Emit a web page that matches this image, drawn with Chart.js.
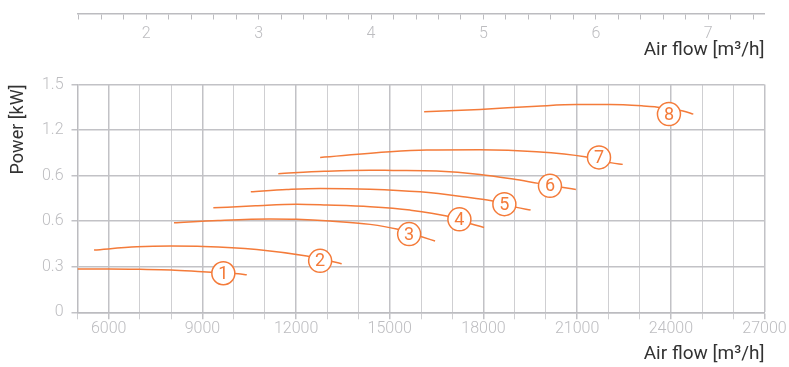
<!DOCTYPE html>
<html>
<head>
<meta charset="utf-8">
<script src="https://cdn.jsdelivr.net/npm/chart.js@4/dist/chart.umd.min.js"></script>
<style>
  html, body { margin: 0; padding: 0; background: #ffffff; }
  #wrap { position: relative; width: 789px; height: 367px; }
  #main { position: absolute; left: 0; top: 0; }
  #top { position: absolute; left: 0; top: 0; pointer-events: none; }
</style>
</head>
<body>
<div id="wrap">
  <canvas id="main" width="789" height="367"></canvas>
  <canvas id="top" width="789" height="70"></canvas>
</div>
<script>
// ---------- data ----------
const flow1 = [5000, 6000, 7000, 8000, 9000, 9700, 10150, 10420];
const power1 = [0.285, 0.285, 0.283, 0.279, 0.267, 0.259, 0.254, 0.247];

const flow2 = [5530, 6900, 8000, 9030, 10740, 12340, 13190, 13460];
const power2 = [0.410, 0.431, 0.436, 0.434, 0.414, 0.370, 0.333, 0.320];

const flow3 = [8090, 9500, 11160, 12020, 13090, 14370, 15220, 16020, 16450];
const power3 = [0.589, 0.604, 0.614, 0.612, 0.601, 0.579, 0.548, 0.497, 0.469];

const flow4 = [9350, 10700, 12020, 12980, 14370, 15650, 16820, 17620, 18020];
const power4 = [0.688, 0.701, 0.711, 0.706, 0.695, 0.673, 0.634, 0.581, 0.559];

const flow5 = [10550, 11700, 12770, 14370, 15970, 17350, 18260, 19060, 19510];
const power5 = [0.793, 0.808, 0.816, 0.811, 0.793, 0.761, 0.734, 0.691, 0.673];

const flow6 = [11430, 12900, 14370, 15110, 16500, 17890, 18950, 19760, 20560, 20960];
const power6 = [0.913, 0.928, 0.936, 0.934, 0.930, 0.908, 0.877, 0.849, 0.822, 0.809];

const flow7 = [12770, 15010, 16180, 17880, 19700, 21250, 22110, 22460];
const power7 = [1.020, 1.057, 1.068, 1.070, 1.057, 1.024, 0.984, 0.974];

const flow8 = [16100, 17890, 19700, 20980, 22050, 23120, 23490, 24390, 24720];
const power8 = [1.320, 1.336, 1.357, 1.368, 1.368, 1.359, 1.353, 1.326, 1.305];

// circled curve numbers
const labelText = ['1', '2', '3', '4', '5', '6', '7', '8'];
const labelFlow = [9670, 12770, 15620, 17230, 18670, 20130, 21700, 23940];
const labelPower = [0.257, 0.339, 0.515, 0.612, 0.712, 0.833, 1.020, 1.305];

// axes
const xMin = 5000, xMax = 27000, xStep = 1000;
const xTickLabels = [6000, 9000, 12000, 15000, 18000, 21000, 24000, 27000];
const yTickValues = [0, 0.3, 0.6, 0.9, 1.2, 1.5];
const yTickLabels = ['0', '0.3', '0.6', '0.6', '1.2', '1.5'];
const topMin = 5000 / 3600, topMax = 27000 / 3600, topStep = 0.2;
const topTickValues = [2, 3, 4, 5, 6, 7];
const topTickLabels = ['2', '3', '4', '5', '6', '7'];
const xTitle = 'Air flow [m³/h]';
const yTitle = 'Power [kW]';

// ---------- styling ----------
const ORANGE = '#f47b3a';
const LABEL_GRAY = '#bdbdc0';
const TITLE_COLOR = '#333333';
const GRID_MINOR = '#cfcfd2';
const GRID_MAJOR = '#c2c2c6';
const AXIS_COLOR = '#bcbcc0';
const FONT = 'Roboto';

const flows = [flow1, flow2, flow3, flow4, flow5, flow6, flow7, flow8];
const powers = [power1, power2, power3, power4, power5, power6, power7, power8];

const curveSets = flows.map((f, k) => ({
  type: 'line',
  data: f.map((x, i) => ({ x: x, y: powers[k][i] })),
  borderColor: ORANGE,
  borderWidth: 1.5,
  pointRadius: 0,
  fill: false,
  cubicInterpolationMode: 'monotone',
  order: 1
}));

const labelSet = {
  type: 'scatter',
  data: labelFlow.map((x, i) => ({ x: x, y: labelPower[i] })),
  pointStyle: 'circle',
  pointRadius: 11.5,
  pointHoverRadius: 11.5,
  backgroundColor: '#ffffff',
  borderColor: ORANGE,
  borderWidth: 1.5,
  order: 0
};

const circleText = {
  id: 'circleText',
  afterDatasetsDraw(chart) {
    const meta = chart.getDatasetMeta(0);
    const ctx = chart.ctx;
    ctx.save();
    ctx.font = '18px ' + FONT;
    ctx.fillStyle = ORANGE;
    ctx.textAlign = 'center';
    ctx.textBaseline = 'middle';
    meta.data.forEach((pt, i) => ctx.fillText(labelText[i], pt.x, pt.y + 1));
    ctx.restore();
  }
};

const isMajor = (v) => xTickLabels.indexOf(v) >= 0;

new Chart(document.getElementById('main'), {
  type: 'scatter',
  data: { datasets: [labelSet].concat(curveSets) },
  plugins: [circleText],
  options: {
    responsive: false,
    animation: false,
    devicePixelRatio: 1,
    layout: { padding: { top: 84.5, right: 24.5, left: 0, bottom: 0 } },
    plugins: { legend: { display: false }, tooltip: { enabled: false } },
    scales: {
      x: {
        type: 'linear',
        position: 'bottom',
        min: xMin, max: xMax,
        afterFit(scale) { scale.height = 54.7; },
        ticks: {
          stepSize: xStep,
          autoSkip: false,
          maxRotation: 0,
          includeBounds: false,
          padding: 2,
          color: LABEL_GRAY,
          font: { family: FONT, size: 16, lineHeight: 1, weight: '300' },
          callback: (v) => (isMajor(v) ? String(v) : '')
        },
        grid: {
          color: (c) => (c.tick && isMajor(c.tick.value) ? GRID_MAJOR : GRID_MINOR),
          lineWidth: (c) => (c.tick && isMajor(c.tick.value) ? 1.5 : 1),
          tickLength: 7
        },
        border: { color: AXIS_COLOR, width: 1.5 },
        title: {
          display: true, text: xTitle, align: 'end', color: TITLE_COLOR,
          font: { family: FONT, size: 19 },
          padding: { top: 0, bottom: 1 }
        }
      },
      y: {
        type: 'linear',
        position: 'left',
        min: 0, max: 1.5,
        afterFit(scale) { scale.width = 77.5; },
        afterBuildTicks(scale) { scale.ticks = yTickValues.map(v => ({ value: v })); },
        ticks: {
          autoSkip: false,
          padding: 8,
          color: LABEL_GRAY,
          font: { family: FONT, size: 16, weight: '300' },
          callback: (v) => {
            const i = yTickValues.findIndex(t => Math.abs(t - v) < 1e-6);
            return i >= 0 ? yTickLabels[i] : '';
          }
        },
        grid: { color: GRID_MAJOR, lineWidth: 1.5, tickLength: 6 },
        border: { color: AXIS_COLOR, width: 1.5 },
        title: {
          display: true, text: yTitle, align: 'end', color: TITLE_COLOR,
          font: { family: FONT, size: 18 },
          padding: { top: 7.5, bottom: 0 }
        }
      }
    }
  }
});

// secondary (top) air flow axis
new Chart(document.getElementById('top'), {
  type: 'scatter',
  data: { datasets: [] },
  options: {
    responsive: false,
    animation: false,
    devicePixelRatio: 1,
    layout: { padding: { top: 0, right: 24.5, left: 77.5, bottom: 0 } },
    plugins: { legend: { display: false }, tooltip: { enabled: false } },
    scales: {
      x: {
        type: 'linear',
        position: 'bottom',
        min: topMin, max: topMax,
        afterFit(scale) { scale.height = 56.5; },
        ticks: {
          stepSize: topStep,
          autoSkip: false,
          maxRotation: 0,
          includeBounds: false,
          padding: 6.5,
          color: LABEL_GRAY,
          font: { family: FONT, size: 16, lineHeight: 1, weight: '300' },
          callback: (v) => {
            const i = topTickValues.findIndex(t => Math.abs(t - v) < 1e-6);
            return i >= 0 ? topTickLabels[i] : '';
          }
        },
        grid: { drawOnChartArea: false, color: AXIS_COLOR, lineWidth: 1, tickLength: 6 },
        border: { color: AXIS_COLOR, width: 1.5 },
        title: {
          display: true, text: xTitle, align: 'end', color: TITLE_COLOR,
          font: { family: FONT, size: 19 },
          padding: { top: 0, bottom: 8 }
        }
      },
      y: { display: false, min: 0, max: 1 }
    }
  }
});
</script>
</body>
</html>
